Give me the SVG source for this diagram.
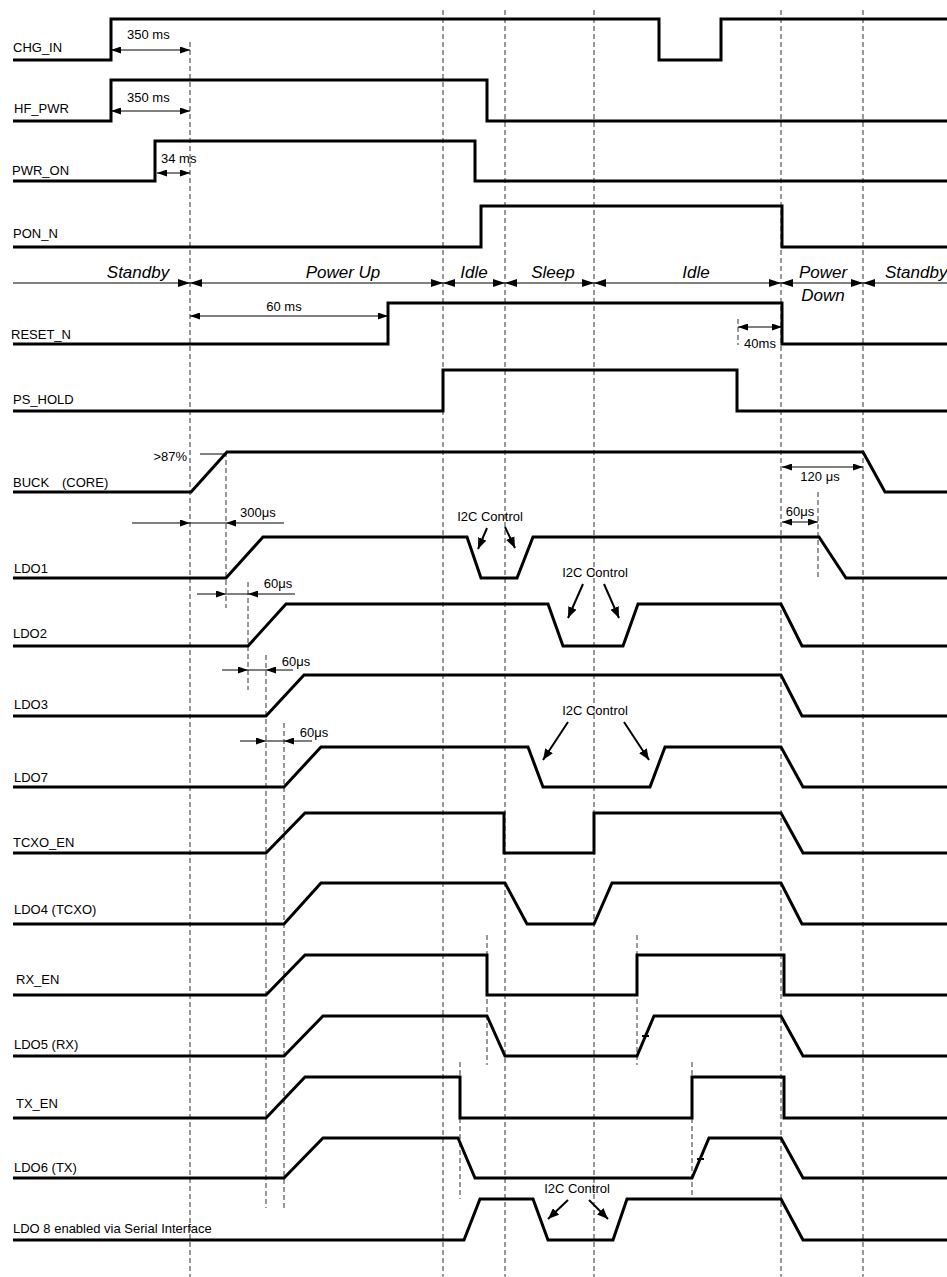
<svg xmlns="http://www.w3.org/2000/svg" width="947" height="1277" viewBox="0 0 947 1277">
<style>
.sig{fill:none;stroke:#000;stroke-width:3;stroke-linejoin:miter}
.dash{fill:none;stroke:#333;stroke-width:1;stroke-dasharray:5,3}
.dim{fill:none;stroke:#000;stroke-width:1}
.i2c{fill:none;stroke:#000;stroke-width:2}
.lbl{font-family:"Liberation Sans",Arial,sans-serif;font-size:13px;fill:#000}
.st{font-family:"Liberation Sans",Arial,sans-serif;font-size:17px;font-style:italic;fill:#000}
</style>
<defs>
<marker id="a" viewBox="0 0 10 7" refX="10" refY="3.5" markerWidth="10" markerHeight="7" markerUnits="userSpaceOnUse" orient="auto-start-reverse"><path d="M0,0 L10,3.5 L0,7 z" fill="#000"/></marker>
<marker id="b" viewBox="0 0 12 8" refX="12" refY="4" markerWidth="12" markerHeight="8" markerUnits="userSpaceOnUse" orient="auto-start-reverse"><path d="M0,0 L12,4 L0,8 z" fill="#000"/></marker>
<marker id="c" viewBox="0 0 11 9" refX="11" refY="4.5" markerWidth="11" markerHeight="9" markerUnits="userSpaceOnUse" orient="auto"><path d="M0,0 L11,4.5 L0,9 z" fill="#000"/></marker>
</defs>
<rect width="947" height="1277" fill="#fff"/>

<g id="guides">
<path class="dash" d="M190,42 V1277 M443,10 V1277 M505,10 V1277 M594,10 V1277 M781,10 V1277 M863,10 V1277"/>
<path class="dash" d="M226,452 V608 M248,582 V690 M266,655 V1208 M284,723 V1208 M487,935 V1065 M637,935 V1065 M460,1062 V1199 M692,1062 V1197 M738,319 V345 M818,492 V580"/>
</g>

<g id="states">
<path class="dim" d="M13,283 H190" marker-end="url(#b)"/>
<path class="dim" d="M190,283 H443" marker-start="url(#b)" marker-end="url(#b)"/>
<path class="dim" d="M443,283 H505" marker-start="url(#b)" marker-end="url(#b)"/>
<path class="dim" d="M505,283 H594" marker-start="url(#b)" marker-end="url(#b)"/>
<path class="dim" d="M594,283 H781" marker-start="url(#b)" marker-end="url(#b)"/>
<path class="dim" d="M781,283 H863" marker-start="url(#b)" marker-end="url(#b)"/>
<path class="dim" d="M947,283 H863" marker-end="url(#b)"/>
<text class="st" x="138" y="278" text-anchor="middle">Standby</text>
<text class="st" x="343" y="278" text-anchor="middle">Power Up</text>
<text class="st" x="474" y="278" text-anchor="middle">Idle</text>
<text class="st" x="553" y="278" text-anchor="middle">Sleep</text>
<text class="st" x="696" y="278" text-anchor="middle">Idle</text>
<text class="st" x="823" y="278" text-anchor="middle">Power</text>
<text class="st" x="823" y="301" text-anchor="middle">Down</text>
<text class="st" x="885" y="278">Standby</text>
</g>

<g id="CHG_IN">
<path class="sig" d="M13,60 H111 V19 H659 V60 H721 V19 H947"/>
<text class="lbl" x="13" y="52">CHG_IN</text>
</g>
<g id="HF_PWR">
<path class="sig" d="M13,121 H111 V80 H487 V121 H947"/>
<text class="lbl" x="14" y="113">HF_PWR</text>
</g>
<g id="PWR_ON">
<path class="sig" d="M13,181 H155 V141 H475 V181 H947"/>
<text class="lbl" x="12" y="175">PWR_ON</text>
</g>
<g id="PON_N">
<path class="sig" d="M13,247 H481 V206 H782 V247 H947"/>
<text class="lbl" x="13" y="238">PON_N</text>
</g>
<g id="RESET_N">
<path class="sig" d="M13,344 H388 V303 H782 V344 H947"/>
<text class="lbl" x="11" y="339">RESET_N</text>
</g>
<g id="PS_HOLD">
<path class="sig" d="M13,411 H443 V370 H737 V411 H947"/>
<text class="lbl" x="13" y="404">PS_HOLD</text>
</g>
<g id="BUCK">
<path class="sig" d="M13,492 H191 L227,452 H863 L885,492 H947"/>
<text class="lbl" x="13" y="487">BUCK</text>
<text class="lbl" x="62" y="487">(CORE)</text>
</g>
<g id="LDO1">
<path class="sig" d="M13,578 H226 L263,537 H467 L481,578 H517 L533,537 H819 L846,578 H947"/>
<text class="lbl" x="14" y="573">LDO1</text>
</g>
<g id="LDO2">
<path class="sig" d="M13,646 H248 L286,604 H548 L563,646 H623 L638,604 H781 L802,646 H947"/>
<text class="lbl" x="13" y="638">LDO2</text>
</g>
<g id="LDO3">
<path class="sig" d="M13,716 H266 L304,675 H781 L802,716 H947"/>
<text class="lbl" x="14" y="709">LDO3</text>
</g>
<g id="LDO7">
<path class="sig" d="M13,787 H284 L321,747 H528 L543,787 H650 L665,747 H781 L803,787 H947"/>
<text class="lbl" x="14" y="782">LDO7</text>
</g>
<g id="TCXO_EN">
<path class="sig" d="M13,853 H266 L305,813 H504 V853 H594 V813 H781 L803,853 H947"/>
<text class="lbl" x="13" y="847">TCXO_EN</text>
</g>
<g id="LDO4">
<path class="sig" d="M13,924 H284 L321,883 H505 L527,924 H594 L612,883 H781 L802,924 H947"/>
<text class="lbl" x="14" y="914">LDO4 (TCXO)</text>
</g>
<g id="RX_EN">
<path class="sig" d="M13,995 H266 L305,955 H487 V995 H637 V955 H784 V995 H947"/>
<text class="lbl" x="16" y="984">RX_EN</text>
</g>
<g id="LDO5">
<path class="sig" d="M13,1056 H284 L323,1016 H487 L505,1056 H637 L654,1016 H781 L803,1056 H947"/>
<path class="i2c" d="M642,1036 H649"/>
<text class="lbl" x="14" y="1049">LDO5 (RX)</text>
</g>
<g id="TX_EN">
<path class="sig" d="M13,1118 H266 L305,1077 H460 V1118 H692 V1077 H784 V1118 H947"/>
<text class="lbl" x="16" y="1108">TX_EN</text>
</g>
<g id="LDO6">
<path class="sig" d="M13,1178 H284 L323,1138 H458 L475,1178 H692 L709,1138 H781 L803,1178 H947"/>
<path class="i2c" d="M697,1159 H704"/>
<text class="lbl" x="14" y="1172">LDO6 (TX)</text>
</g>
<g id="LDO8">
<path class="sig" d="M13,1240 H464 L480,1199 H533 L548,1240 H613 L627,1199 H781 L803,1240 H947"/>
<text class="lbl" x="13" y="1233">LDO 8 enabled via Serial Interface</text>
</g>

<g id="connectors">
<path class="dim" d="M111,50 H190" marker-start="url(#a)" marker-end="url(#a)"/>
<path class="dim" d="M111,111 H190" marker-start="url(#a)" marker-end="url(#a)"/>
<path class="dim" d="M157,173 H190" marker-start="url(#a)" marker-end="url(#a)"/>
<path class="dim" d="M190,316 H388" marker-start="url(#a)" marker-end="url(#a)"/>
<path class="dim" d="M738,327 H782" marker-start="url(#a)" marker-end="url(#a)"/>
<path class="dim" d="M200,454 H227"/>
<path class="dim" d="M132,523 H190" marker-end="url(#a)"/>
<path class="dim" d="M190,523 H226"/>
<path class="dim" d="M284,523 H226" marker-end="url(#a)"/>
<path class="dim" d="M782,467 H863" marker-start="url(#a)" marker-end="url(#a)"/>
<path class="dim" d="M782,522 H818" marker-start="url(#a)" marker-end="url(#a)"/>
<path class="dim" d="M197,594 H226" marker-end="url(#a)"/>
<path class="dim" d="M226,594 H248"/>
<path class="dim" d="M295,594 H248" marker-end="url(#a)"/>
<path class="dim" d="M222,670 H248" marker-end="url(#a)"/>
<path class="dim" d="M248,670 H266"/>
<path class="dim" d="M293,670 H266" marker-end="url(#a)"/>
<path class="dim" d="M240,741 H266" marker-end="url(#a)"/>
<path class="dim" d="M266,741 H284"/>
<path class="dim" d="M312,741 H284" marker-end="url(#a)"/>
<path class="i2c" d="M487,528 L478,549" marker-end="url(#c)"/>
<path class="i2c" d="M505,527 L515,548" marker-end="url(#c)"/>
<path class="i2c" d="M583,584 L568,618" marker-end="url(#c)"/>
<path class="i2c" d="M604,584 L619,618" marker-end="url(#c)"/>
<path class="i2c" d="M568,722 L543,760" marker-end="url(#c)"/>
<path class="i2c" d="M624,722 L649,760" marker-end="url(#c)"/>
<path class="i2c" d="M568,1200 L548,1219" marker-end="url(#c)"/>
<path class="i2c" d="M589,1200 L608,1219" marker-end="url(#c)"/>
</g>

<g id="annotations">
<text class="lbl" x="127" y="39">350 ms</text>
<text class="lbl" x="127" y="102">350 ms</text>
<text class="lbl" x="161" y="163">34 ms</text>
<text class="lbl" x="284" y="311" text-anchor="middle">60 ms</text>
<text class="lbl" x="760" y="348" text-anchor="middle">40ms</text>
<text class="lbl" x="187" y="461" text-anchor="end">&gt;87%</text>
<text class="lbl" x="240" y="517">300μs</text>
<text class="lbl" x="820" y="481" text-anchor="middle">120 μs</text>
<text class="lbl" x="800" y="516" text-anchor="middle">60μs</text>
<text class="lbl" x="278" y="588" text-anchor="middle">60μs</text>
<text class="lbl" x="296" y="666" text-anchor="middle">60μs</text>
<text class="lbl" x="314" y="737" text-anchor="middle">60μs</text>
<text class="lbl" x="490" y="521" text-anchor="middle">I2C Control</text>
<text class="lbl" x="595" y="577" text-anchor="middle">I2C Control</text>
<text class="lbl" x="595" y="715" text-anchor="middle">I2C Control</text>
<text class="lbl" x="577" y="1193" text-anchor="middle">I2C Control</text>
</g>
</svg>
